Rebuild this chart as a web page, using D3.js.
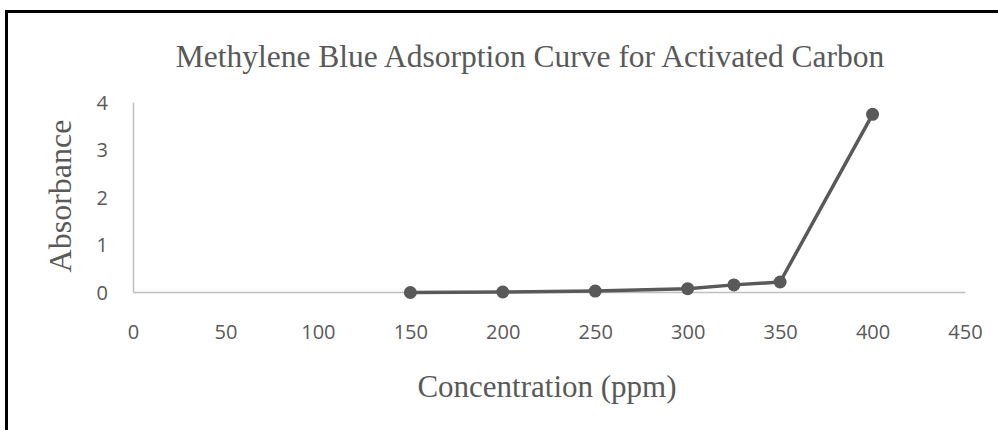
<!DOCTYPE html>
<html><head><meta charset="utf-8">
<script src="https://cdn.jsdelivr.net/npm/d3@7"></script>
<style>html,body{margin:0;padding:0;background:#fff;}svg{display:block;}</style>
</head><body>
<svg id="c" width="998" height="430"></svg>
<script>
const concentration = [150, 200, 250, 300, 325, 350, 400];
const absorbance = [-0.01, 0.0, 0.02, 0.07, 0.15, 0.21, 3.74];
const xTicks = [0, 50, 100, 150, 200, 250, 300, 350, 400, 450];
const yTicks = [0, 1, 2, 3, 4];
const title = "Methylene Blue Adsorption Curve for Activated Carbon";
const xTitle = "Concentration (ppm)";
const yTitle = "Absorbance";

const svg = d3.select("#c");
svg.append("rect").attr("x",6.5).attr("y",11.5).attr("width",1100).attr("height",600)
  .attr("fill","#fff").attr("stroke","#000").attr("stroke-width",3);

const x = d3.scaleLinear().domain([0,450]).range([133,965]);
const y = d3.scaleLinear().domain([0,4]).range([292,102]);
const tickFont = "'Open Sans', sans-serif";

const xa = svg.append("g").attr("transform","translate(0,292)")
  .call(d3.axisBottom(x).tickValues(xTicks).tickFormat(d3.format("d")).tickSize(0));
xa.select(".domain").attr("stroke","#bfbfbf").attr("stroke-width",1.5);
xa.selectAll("text").attr("y",46.5).attr("dy",null)
  .attr("font-family",tickFont).attr("font-size",20).attr("fill","#595959");

const ya = svg.append("g").attr("transform","translate(133,0)")
  .call(d3.axisLeft(y).tickValues(yTicks).tickFormat(d3.format("d")).tickSize(0));
ya.select(".domain").attr("stroke","#bfbfbf").attr("stroke-width",1.5);
ya.selectAll("text").attr("x",-25).attr("dy","0.36em")
  .attr("font-family",tickFont).attr("font-size",20).attr("fill","#595959");

const data = concentration.map((c,i)=>({c, a: absorbance[i]}));
svg.append("path").datum(data)
  .attr("d", d3.line().x(d=>x(d.c)).y(d=>y(d.a)))
  .attr("fill","none").attr("stroke","#595959").attr("stroke-width",3.5).attr("stroke-linejoin","round");
svg.selectAll("circle.pt").data(data).enter().append("circle")
  .attr("class","pt").attr("cx",d=>x(d.c)).attr("cy",d=>y(d.a)).attr("r",6.5).attr("fill","#595959");

const serif = "'Liberation Serif', 'Times New Roman', serif";
svg.append("text").attr("x",530).attr("y",67).attr("text-anchor","middle")
  .attr("font-family",serif).attr("font-size",31.5).attr("fill","#595959").text(title);
svg.append("text").attr("x",547).attr("y",397).attr("text-anchor","middle")
  .attr("font-family",serif).attr("font-size",31).attr("fill","#595959").text(xTitle);
svg.append("text").attr("transform","translate(71,196) rotate(-90)").attr("text-anchor","middle")
  .attr("font-family",serif).attr("font-size",32).attr("fill","#595959").text(yTitle);
</script>
</body></html>
